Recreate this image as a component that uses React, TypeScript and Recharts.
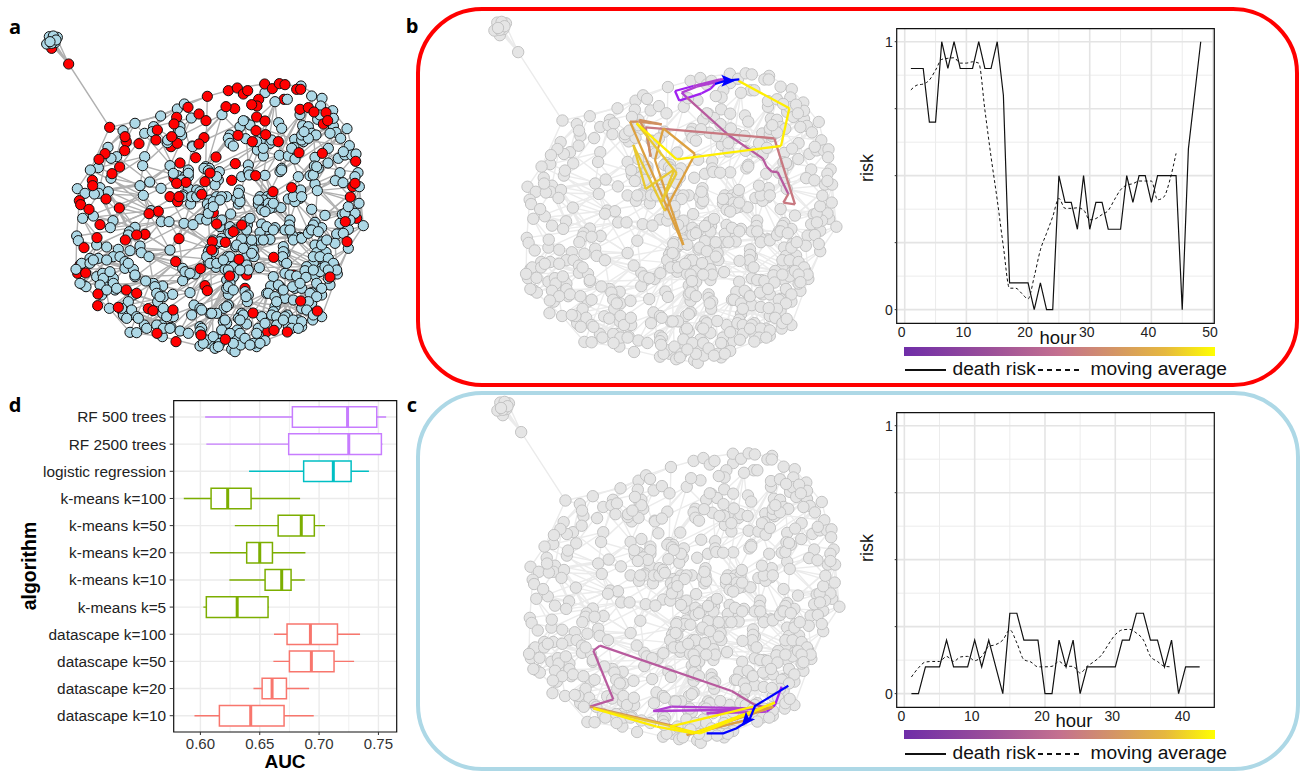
import React from "react";
import { ComposedChart, Scatter, Line, XAxis, YAxis, CartesianGrid, ReferenceArea } from "recharts";

const FONT = "'Liberation Sans', Arial, sans-serif";

// ---------- network layout (3x pixel grid) ----------
const blueNodes: number[][] = [
[148,110],[172,112],[160,108],[140,132],[165,128],[155,130],[168,120],[150,125],
[903,258],[795,278],[825,305],[862,298],[935,288],[966,295],[962,318],[532,327],[553,312],[482,348],[574,354],[666,344],[900,344],[998,332],[953,358],[1000,378],[836,368],[735,364],[750,375],
[405,370],[369,392],[461,380],[434,400],[457,395],[535,388],[545,405],[908,377],[925,380],[845,385],[1041,386],[1008,397],[935,400],[948,405],
[690,405],[685,415],[737,416],[785,428],[810,430],[884,418],[910,425],[882,442],[905,420],[1022,415],[1048,437],[985,445],[502,428],[577,438],[690,430],[700,438],[772,450],[790,468],[838,466],[865,468],[885,477],[1015,475],[1035,465],[1055,465],[1068,462],[945,472],[984,489],[943,498],[955,505],
[324,442],[350,470],[333,475],[295,503],[271,510],[434,470],[428,497],[510,497],[617,500],[628,505],[745,495],[845,505],[840,515],[658,515],[565,510],[533,527],[555,530],[565,530],[655,540],[725,530],[750,522],[795,526],[895,530],[930,527],[1020,518],[1074,518],[1065,530],
[333,535],[300,563],[296,580],[325,575],[232,566],[255,580],[283,582],[449,546],[420,557],[483,565],[430,586],[645,555],[565,565],[590,570],[550,585],[718,570],[945,552],[1006,542],[1029,548],[1078,560],[952,572],[902,570],[1077,610],
[780,590],[802,590],[815,590],[865,597],[900,595],[885,605],[630,600],[650,590],[680,590],[718,590],[572,612],[622,612],[628,625],[715,612],[775,612],[800,628],[820,622],[843,623],[785,630],[935,628],[1045,640],[975,646],[1027,643],[1065,640],
[453,632],[484,665],[507,665],[692,642],[248,655],[280,648],[339,662],[331,683],[600,657],[552,670],[579,674],[620,660],[745,660],[742,675],[785,672],[870,660],[868,675],[945,667],[1045,688],[1090,677],[965,683],[940,675],[930,690],[825,683],[805,690],[780,697],[405,682],[388,695],[385,705],[660,680],[685,698],[665,715],[1010,702],
[230,708],[235,722],[290,735],[320,741],[355,748],[390,752],[420,738],[424,758],[447,770],[510,750],[645,735],[630,745],[740,715],[725,717],[775,720],[810,718],[900,712],[878,708],[945,735],[968,725],[1005,730],[1045,745],[755,735],[760,750],[707,740],[850,740],[978,757],[950,758],[855,760],[340,770],[360,770],
[270,775],[295,775],[320,780],[375,785],[245,790],[270,790],[632,778],[682,770],[680,790],[648,802],[625,785],[740,770],[762,770],[852,785],[940,790],[975,785],[965,805],[995,800],[920,800],[405,830],[375,805],[400,808],[548,805],[560,825],[585,822],[548,842],[700,800],[740,800],[778,803],[228,808],[290,830],[308,820],[332,825],[340,835],[675,808],[855,820],[870,825],[820,830],[890,828],[915,812],[1012,822],[945,825],[960,815],[918,832],[950,850],[990,855],
[248,853],[258,860],[315,850],[335,860],[345,870],[310,855],[460,850],[437,843],[488,858],[680,840],[700,830],[812,858],[840,860],[885,865],[905,865],[570,878],[474,880],[490,890],[518,883],[685,883],[680,865],[735,875],[745,885],[800,880],[855,895],[880,900],[935,878],[965,885],[305,885],[400,885],[385,905],[742,905],
[328,925],[368,935],[375,950],[370,945],[395,930],[410,950],[473,905],[582,915],[600,925],[685,915],[672,925],[825,920],[820,935],[905,925],[935,910],[965,950],[938,960],[488,940],[510,940],[575,945],[630,940],[650,940],[725,940],[715,955],[785,950],[825,950],[862,945],[895,960],[890,975],[870,965],
[433,975],[485,975],[513,982],[600,980],[670,965],[680,970],[740,972],[712,990],[775,985],[865,980],[905,980],[390,997],[410,998],[540,993],[565,1000],[605,985],[715,1005],[775,1005],[487,1010],[627,1030],[655,1018],[710,1020],[795,1022],[600,1038],[645,1045],[695,1048],[705,1055],[722,1035],[770,1040],[760,1030],
[720,380],[770,425],[790,445],[815,420],[875,445],[905,405],[925,415],[912,395],[1030,455],[990,400],[975,345],[1000,355],[960,345],[730,362],
[540,380],[540,395],[503,420],[578,440],[612,505],[625,512],[650,530],[745,515],[748,525],[845,510],[940,525],[950,500],
[520,520],[565,520],[545,540],[548,590],[575,590],[590,590],[600,575],[640,605],[665,590],[660,600],[710,595],[720,605],[715,580],[790,600],[775,600],[805,610],[810,625],[795,635],[820,610],[880,590],[905,590],
[625,640],[640,620],[665,660],[690,680],[690,700],[705,690],[740,690],[735,665],[750,655],[800,680],[820,690],[790,720],[855,690],[870,690],[880,720],[905,715],[925,700],[935,690],[955,695],[965,735],[980,720],[1030,700],[1020,670],[1050,660],[1035,640],[1045,620],
[640,720],[650,730],[625,755],[640,755],[660,725],[710,735],[730,745],[755,760],[755,720],[850,755],[848,770],[860,790],[940,770],[960,770],[985,775],[1000,790],[1010,810],[940,810],[975,800],[985,810],[985,835],
[620,770],[630,790],[650,790],[690,770],[670,780],[740,795],[745,810],[720,810],[685,810],[690,850],[685,860],[700,870],[738,890],[805,880],[835,855],[850,870],[878,860],[900,850],[930,880],[965,865],[950,890],[925,905],[825,890],[830,905],
[310,835],[330,815],[300,855],[340,850],[320,870],[350,865],[240,850],[280,780],[385,790],[405,825],
[555,815],[570,820],[465,860],[470,880],[480,890],
[365,925],[380,955],[415,955],[490,925],[520,950],[500,950],[605,930],[635,940],[680,920],[675,960],[730,945],[720,960],[815,945],[830,950],[855,950],[880,960],[905,965],[920,930],[940,945],
[440,985],[470,975],[490,985],[510,985],[600,995],[665,990],[690,1000],[720,1000],[770,1000],[795,970],[830,975],[850,960],[875,985],[895,985],
[620,1020],[640,1010],[660,1030],[700,1030],[735,1015],[750,1035],[780,1030],[655,1040],[610,1030],
];
const redBehind: number[][] = [
[155,145],[852,298],[1058,560],[1070,655],[240,795],[233,820],[522,533],[513,440],[880,825],[740,825],[1003,797],[798,997],[735,865],[640,638],
];
const redFront: number[][] = [
[206,192],[329,382],[622,289],[685,272],[712,264],[730,282],[743,272],[794,252],[817,266],[838,251],[855,254],[890,268],[902,268],[776,298],[771,318],[755,314],[704,326],[678,320],[564,322],[530,352],[597,342],[618,362],[522,372],[770,351],[795,363],[768,392],[797,404],[835,425],[757,425],[714,406],[900,328],[925,323],[942,336],[978,338],[970,372],[983,362],[472,390],[468,420],[417,431],[379,425],[375,410],[374,452],[315,461],[297,478],[359,501],[612,413],[597,432],[532,430],[515,410],[648,471],[587,473],[540,489],[706,491],[630,519],[615,545],[695,541],[767,527],[897,458],[967,460],[1067,484],[1065,550],[1051,591],[875,563],[819,575],[558,547],[530,550],[510,590],[533,605],[537,590],[605,583],[336,521],[277,541],[278,557],[318,597],[358,624],[238,602],[242,614],[267,628],[300,674],[291,713],[252,743],[475,634],[447,641],[650,672],[725,675],[435,703],[410,705],[376,720],[537,716],[700,695],[676,727],[637,725],[635,750],[717,778],[821,772],[1036,665],[1041,725],[527,785],[601,806],[257,819],[379,870],[294,882],[410,880],[293,917],[355,922],[445,926],[459,932],[519,930],[615,857],[622,872],[689,828],[990,831],[902,903],[952,933],[759,939],[471,1000],[528,1025],[603,1005],[676,1018],[822,991],[862,996],
];
const edgeTrails: number[][][] = [
[[160,125],[206,192],[150,120],[206,192],[172,118],[206,192],[165,130],[206,192],[155,135],[206,192],[329,382]],
[[329,382],[482,348],[622,289],[712,264],[794,252],[903,258],[966,295],[1041,386],[1074,518],[1090,677],[1045,745],[1012,822],[965,950],[862,996],[795,1022],[705,1055],[600,1038],[487,1010],[390,997],[328,925],[248,853],[228,808],[230,708],[238,602],[232,566],[271,510],[329,382]],
[[405,370],[532,327],[574,450],[666,344],[620,500],[735,364],[690,430],[825,305],[845,505],[903,400],[935,288],[945,472],[1041,386],[1015,475],[1068,462],[1020,518],[1006,542],[1051,591],[952,572],[1077,610],[975,646],[1040,590]],
[[271,510],[430,586],[300,563],[453,632],[333,535],[483,565],[358,624],[552,670],[510,590],[600,657],[645,555],[692,642],[718,570],[785,672],[819,575],[870,660],[900,570],[945,667],[952,572],[1027,643],[1078,560],[1045,688],[965,683]],
[[230,708],[405,682],[290,735],[510,750],[390,752],[527,785],[447,770],[645,735],[560,825],[707,740],[648,802],[778,803],[760,750],[900,712],[820,830],[945,735],[915,812],[1045,745],[990,855],[920,800]],
[[248,853],[460,850],[328,925],[570,878],[433,975],[685,883],[540,993],[800,880],[715,1005],[880,900],[775,1005],[965,885],[865,980],[990,831]],
[[482,348],[434,470],[420,557],[453,632],[435,703],[510,750],[405,830],[474,880],[433,975]],
[[574,354],[510,497],[572,612],[537,716],[548,805],[570,878],[582,915],[600,1038]],
[[735,364],[745,495],[718,590],[745,660],[707,740],[740,800],[680,883],[725,940],[705,1055]],
[[845,385],[895,530],[865,597],[868,675],[850,740],[855,820],[855,895],[825,950],[795,1022]],
[[1000,378],[985,489],[945,552],[1027,643],[1005,730],[1012,822],[965,885]],
[[324,442],[296,580],[248,655],[290,735],[245,790],[315,850],[328,925]],
[[405,370],[558,547],[700,695],[852,785],[965,950]],
[[1041,386],[880,560],[660,680],[450,850],[390,997]],
[[232,566],[450,640],[650,740],[900,860],[1045,745]],
[[622,289],[617,500],[630,745],[640,1030]],
[[825,305],[780,590],[725,717],[680,840],[610,1020]],
[[900,344],[1020,518],[1077,610],[1090,677],[1010,702]],
[[369,392],[350,470],[449,546],[339,662],[405,682],[484,665],[420,738],[552,670],[510,750],[447,640],[430,586],[507,665],[537,716],[579,674],[510,750],[405,682],[375,805],[270,775],[320,741],[248,655],[339,662],[280,648]],
[[461,380],[428,497],[533,527],[461,380],[574,450],[550,585],[628,505],[572,612],[680,590],[620,660],[745,660],[660,680],[780,697],[685,698],[810,718],[725,717],[900,712],[775,720],[878,708],[805,690],[930,690],[825,683],[945,735]],
[[666,344],[790,468],[772,450],[838,466],[900,344],[885,477],[750,375],[884,418],[1000,378],[905,420],[1048,437],[943,498],[1074,518],[1029,548],[985,445],[895,530],[945,472],[930,527],[865,468],[802,590],[895,530],[900,595],[975,646]],
[[248,853],[375,805],[228,808],[340,835],[270,775],[400,808],[320,780],[460,850],[375,785],[437,843],[335,860],[473,905],[345,870],[488,940],[368,935],[513,982],[395,930],[485,975],[410,998],[540,993]],
[[680,970],[600,925],[740,972],[630,940],[785,950],[685,915],[862,945],[742,905],[905,925],[800,880],[938,960],[855,895],[890,975],[812,858],[935,910],[885,865],[945,825],[855,760],[965,805],[852,785],[1012,822],[940,790]],
[[548,842],[675,808],[570,878],[700,830],[600,980],[680,865],[605,985],[735,875],[655,1018],[745,885],[770,1040],[825,920],[795,1022],[820,935],[722,1035],[785,950]],
[[632,778],[740,770],[625,785],[778,803],[682,770],[852,785],[762,770],[870,825],[740,715],[820,830],[700,800],[855,820],[560,825],[680,790],[548,805],[632,778],[424,758],[560,825],[405,830]],
[[329,382],[369,392],[324,442],[405,370],[350,470],[434,400],[333,535],[434,470],[295,503],[420,557],[255,580],[449,546],[283,582],[430,586],[248,655],[453,632],[331,683],[484,665],[385,705]],
[[235,722],[355,748],[245,790],[424,758],[228,808],[290,735],[248,853],[320,780],[258,860],[375,805],[305,885],[437,843],[328,925],[400,885],[395,930],[518,883],[410,998],[488,940],[513,982],[582,915],[540,993],[650,940],[600,1038]],
[[532,327],[461,380],[574,354],[502,428],[666,344],[577,438],[735,364],[617,500],[690,405],[628,505],[785,428],[658,515],[838,466],[725,530],[825,305],[750,522],[900,344],[795,526],[1000,378],[840,515],[1041,386],[895,530]],
[[622,289],[553,312],[482,348],[461,380],[502,428],[428,497],[483,565],[420,557],[510,497],[449,546],[565,510],[483,565],[565,565],[453,632],[572,612],[484,665],[600,657],[507,665],[645,735],[552,670],[630,745],[537,716]],
[[1074,518],[1078,560],[1077,610],[1045,640],[1090,677],[1005,730],[1045,688],[968,725],[1010,702],[945,667],[1027,643],[935,628],[1065,640],[975,646],[1078,560],[952,572],[1020,518],[902,570],[1006,542],[900,595],[945,552],[843,623]],
[[300,563],[339,662],[296,580],[405,682],[325,575],[388,695],[358,624],[331,683],[453,632],[385,705],[420,738],[447,770],[510,750],[548,805],[447,770],[460,850],[527,785],[437,843],[548,842],[488,858],[570,878]],
[[715,612],[800,628],[692,642],[785,672],[718,570],[843,623],[745,495],[815,590],[795,526],[870,660],[750,522],[900,712],[780,590],[945,735],[885,605],[1005,730],[935,628],[975,785],[868,675],[995,800],[850,740],[965,805],[878,708],[1012,822]],
[[645,555],[572,612],[630,600],[552,670],[622,612],[579,674],[628,625],[600,657],[692,642],[620,660],[660,680],[645,735],[685,698],[632,778],[740,715],[682,770],[775,720],[700,800],[810,718],[740,800],[855,760],[778,803],[920,800],[855,820],[945,825],[890,828],[950,850],[885,865],[990,855],[935,878]],
[[548,805],[488,858],[585,822],[518,883],[648,802],[570,878],[625,785],[582,915],[700,830],[600,925],[680,840],[630,940],[685,883],[650,940],[742,905],[725,940],[800,880],[785,950],[812,858],[825,920],[840,860],[862,945],[880,900],[895,960],[905,865],[938,960]],
];

// ---------- journeys on the network; each leg's time step is an index on the colour scale ----------
const pathBBlue: number[][] = [[778,208],[738,212],[705,222]];
const pathBMain: number[][] = [[705,222],[692,236],[665,250],[598,272],[585,243],[640,228],[720,208],[745,208],[650,230],[605,248],[620,262],[745,375],[848,445],[860,470],[875,485],[893,486],[925,552],[910,578],[945,583],[883,385],[497,352],[512,440],[500,370],[478,330],[545,343],[475,335],[450,335],[610,705],[525,450],[550,355],[645,432],[555,603],[460,405],[497,537],[583,478],[545,575],[590,490],[470,340],[590,448],[903,408],[928,295],[775,212]];
const pathBLegs = [0,0,0,0,0,1,1,1,1,1,2,2,2,2,2,2,3,3,3,3,3,4,4,4,4,4,5,5,5,5,5,6,6,6,6,6,6,7,7,7,7];
const arrowB: number[][] = [[742,212]];
const pathCBlue: number[][] = [[925,887],[825,948],[808,990],[770,1015],[730,1030],[680,1030]];
const pathCMain: number[][] = [[905,890],[885,945],[860,965],[680,970],[820,955],[575,950],[520,963],[720,960],[875,955],[825,945],[755,903],[360,767],[340,782],[400,928],[330,950],[570,1005],[640,1030],[800,990],[620,1035],[880,950],[640,1030],[570,1008],[340,955],[530,1010],[640,1030],[885,938],[660,1030],[570,1010],[820,950]];
const pathCLegs = [0,0,1,1,1,1,1,1,2,2,2,2,2,2,4,4,4,5,5,5,6,6,7,7,7,7,7,7];
const arrowC: number[][] = [[800,990]];
const legPalette = ["#a020f0","#b040d0","#b85a9e","#c87880","#d09060","#dca040","#e8c830","#ffee00"];

// ---------- risk series ----------
const riskB = [0.9,0.9,0.9,0.7,0.7,1,0.9,1,0.9,0.9,0.9,1,0.9,0.9,1,0.8,0.1,0.1,0.1,0.1,0,0.1,0,0,0.5,0.4,0.4,0.3,0.5,0.3,0.4,0.4,0.3,0.3,0.3,0.5,0.4,0.5,0.5,0.4,0.5,0.5,0.5,0.5,0,0.6,0.8,1];
const avgB = [0.82,0.838,0.842,0.857,0.894,0.934,0.938,0.94,0.92,0.92,0.925,0.92,0.745,0.57,0.41,0.235,0.08,0.08,0.06,0.04,0.123,0.223,0.285,0.347,0.415,0.378,0.378,0.38,0.372,0.335,0.34,0.355,0.37,0.41,0.447,0.465,0.47,0.48,0.48,0.48,0.41,0.42,0.484,0.583];
const riskC = [0,0,0.1,0.1,0.1,0.2,0.1,0.1,0.1,0.2,0.1,0.2,0.1,0,0.3,0.3,0.2,0.2,0.2,0,0,0.2,0.1,0.2,0,0.1,0.1,0.1,0.1,0.1,0.2,0.2,0.3,0.3,0.2,0.2,0.1,0.2,0,0.1,0.1,0.1];
const avgC = [0.062,0.096,0.118,0.12,0.12,0.139,0.12,0.137,0.139,0.123,0.139,0.176,0.183,0.2,0.238,0.189,0.127,0.118,0.1,0.1,0.102,0.12,0.102,0.102,0.077,0.102,0.12,0.143,0.183,0.22,0.238,0.24,0.226,0.2,0.139,0.12,0.102,0.1];
const xTicksB = [0,10,20,30,40,50];
const xTicksC = [0,10,20,30,40];
const yTicks = [0,0.25,0.5,0.75,1];
const yMinor = [0.125,0.375,0.625,0.875];

// ---------- AUC box plots, listed top to bottom ----------
const algorithms = ["RF 500 trees","RF 2500 trees","logistic regression","k-means k=100","k-means k=50","k-means k=20","k-means k=10","k-means k=5","datascape k=100","datascape k=50","datascape k=20","datascape k=10"];
const whiskerLow = [0.604,0.605,0.641,0.586,0.629,0.608,0.6244,0.6025,0.662,0.6615,0.6447,0.595];
const q1 = [0.6775,0.6744,0.687,0.609,0.6655,0.639,0.6545,0.605,0.673,0.675,0.652,0.616];
const median = [0.724,0.725,0.712,0.623,0.685,0.65,0.6685,0.631,0.6927,0.6935,0.6604,0.6424];
const q3 = [0.7486,0.7525,0.727,0.6427,0.696,0.6607,0.6764,0.657,0.7155,0.7126,0.6725,0.6705];
const whiskerHigh = [0.7565,0.7534,0.742,0.684,0.705,0.6885,0.688,0.6576,0.7345,0.7295,0.6916,0.6955];
const boxColors = ["#C77CFF","#C77CFF","#00BFC4","#7CAE00","#7CAE00","#7CAE00","#7CAE00","#7CAE00","#F8766D","#F8766D","#F8766D","#F8766D"];
const aucTicks = [0.6,0.65,0.7,0.75];
const aucMinor = [0.625,0.675,0.725];

const toPts = (a: number[][]) => a.map(([x, y]) => ({ x, y }));
const noMark = () => <g />;

function Txt({ x, y, size = 18, bold = false, rotate = 0, color = "#111", family = FONT, anchor = "center", children }: any) {
  const tx = anchor === "left" ? "0" : anchor === "right" ? "-100%" : "-50%";
  return (
    <div style={{ position: "absolute", left: x, top: y, fontFamily: family, fontSize: size, fontWeight: bold ? 700 : 400, color, whiteSpace: "nowrap", lineHeight: 1, transform: `translate(${tx},-50%) rotate(${rotate}deg)` }}>
      {children}
    </div>
  );
}

function Network({ left, top, scale, blue, red, edge, nodeStroke, r, ew }: any) {
  const circle = (fill: string) => (p: any) => <circle cx={p.cx} cy={p.cy} r={r} fill={fill} stroke={nodeStroke} strokeWidth={1} />;
  return (
    <div style={{ position: "absolute", left, top }}>
      <ComposedChart width={400 * scale} height={380 * scale} margin={{ top: 0, right: 0, bottom: 0, left: 0 }}>
        <XAxis hide type="number" dataKey="x" domain={[0, 1200]} allowDataOverflow />
        <YAxis hide type="number" dataKey="y" domain={[0, 1140]} reversed allowDataOverflow />
        {edgeTrails.map((t, i) => (
          <Scatter key={i} data={toPts(t)} isAnimationActive={false} shape={noMark} line={{ stroke: edge, strokeWidth: ew }} />
        ))}
        <Scatter data={toPts(redBehind)} isAnimationActive={false} shape={circle(red)} />
        <Scatter data={toPts(blueNodes)} isAnimationActive={false} shape={circle(blue)} />
        <Scatter data={toPts(redFront)} isAnimationActive={false} shape={circle(red)} />
      </ComposedChart>
    </div>
  );
}

function Journey({ left, top, h, blue, main, legs, arrow, angle }: any) {
  const arrowShape = (p: any) => (
    <polygon points="8,0 -6,-6 -3,0 -6,6" fill="#0000ff" transform={`translate(${p.cx},${p.cy}) rotate(${angle})`} />
  );
  const segs = main.slice(1).map((pt: number[], i: number) => ({ pts: [main[i], pt], color: legPalette[legs[i]] }));
  return (
    <div style={{ position: "absolute", left, top }}>
      <ComposedChart width={380} height={h} margin={{ top: 0, right: 0, bottom: 0, left: 0 }}>
        <XAxis hide type="number" dataKey="x" domain={[0, 1140]} allowDataOverflow />
        <YAxis hide type="number" dataKey="y" domain={[0, h * 3]} reversed allowDataOverflow />
        {segs.map((s: any, i: number) => (
          <Scatter key={i} data={toPts(s.pts)} isAnimationActive={false} shape={noMark} line={{ stroke: s.color, strokeWidth: 2.3 }} />
        ))}
        <Scatter data={toPts(blue)} isAnimationActive={false} shape={noMark} line={{ stroke: "#0000ff", strokeWidth: 2.3 }} />
        <Scatter data={toPts(arrow)} isAnimationActive={false} shape={arrowShape} />
      </ComposedChart>
    </div>
  );
}

function RiskChart({ top, risk, avg, xTicks, xDomain, xMinor }: any) {
  const riskData = risk.map((v: number, i: number) => ({ h: i + 1, v }));
  const avgData = avg.map((v: number, i: number) => ({ h: i + 1, v }));
  return (
    <div style={{ position: "absolute", left: 860, top }}>
      <ComposedChart width={370} height={340} margin={{ top: 8.7, right: 15.7, bottom: 16.7, left: 0 }}>
        <CartesianGrid stroke="#ececec" strokeWidth={1} horizontalValues={yMinor} verticalValues={xMinor} />
        <CartesianGrid stroke="#e4e4e4" strokeWidth={1.6} horizontalValues={yTicks} verticalValues={xTicks} />
        <XAxis type="number" dataKey="h" domain={xDomain} ticks={xTicks} allowDataOverflow height={20} interval={0}
          tick={{ fontSize: 14, fill: "#222", dx: -3, fontFamily: FONT }} tickSize={2} tickMargin={2} axisLine={false} tickLine={false} />
        <YAxis type="number" dataKey="v" domain={[-0.051, 1.0485]} ticks={yTicks} allowDataOverflow width={36.7} interval={0}
          tick={{ fontSize: 14, fill: "#222", fontFamily: FONT }} tickFormatter={(v: number) => (v === 0 || v === 1 ? String(v) : "")} tickSize={2} axisLine={false} stroke="#333" />
        <ReferenceArea x1={xDomain[0]} x2={xDomain[1]} y1={-0.051} y2={1.0485} fill="none" fillOpacity={0} stroke="#111" strokeWidth={1.2} />
        <Line data={riskData} dataKey="v" type="linear" stroke="#111" strokeWidth={1.2} dot={false} isAnimationActive={false} />
        <Line data={avgData} dataKey="v" type="monotone" stroke="#111" strokeWidth={1} strokeDasharray="3 2.5" dot={false} isAnimationActive={false} />
      </ComposedChart>
    </div>
  );
}

function ColorLegend({ barTop, legendY }: any) {
  return (
    <>
      <div style={{ position: "absolute", left: 904, top: barTop, width: 311, height: 9, background: "linear-gradient(90deg,#6f2da8 0%,#9c5099 28%,#c4708f 50%,#d69a60 70%,#e6b83e 84%,#ffff00 100%)" }} />
      <div style={{ position: "absolute", left: 905, top: legendY, width: 41, height: 1.5, background: "#111" }} />
      <Txt x={952.5} y={legendY} size={19.2} anchor="left">death risk</Txt>
      <div style={{ position: "absolute", left: 1038, top: legendY, width: 42, height: 1.5, background: "repeating-linear-gradient(90deg,#111 0 5px,transparent 5px 9px)" }} />
      <Txt x={1090.5} y={legendY} size={19.2} anchor="left">moving average</Txt>
    </>
  );
}

function AucChart() {
  const yOf = (i: number) => algorithms.length - i;
  const boxHalf = 0.38;
  return (
    <div style={{ position: "absolute", left: 0, top: 390 }}>
      <ComposedChart width={400} height={381} margin={{ top: 10.7, right: 3.3, bottom: 17, left: 0 }}>
        <CartesianGrid stroke="#f0f0f0" strokeWidth={1} horizontal={false} verticalValues={aucMinor} />
        <CartesianGrid stroke="#ebebeb" strokeWidth={1.4} horizontalValues={algorithms.map((_, i) => yOf(i))} verticalValues={aucTicks} />
        <XAxis type="number" dataKey="x" domain={[0.5775, 0.7654]} ticks={aucTicks} allowDataOverflow height={22} interval={0}
          tickFormatter={(v: number) => v.toFixed(2)} tick={{ fontSize: 15, fill: "#333", fontFamily: FONT }} tickSize={3} tickMargin={3} axisLine={false} stroke="#333" />
        <YAxis type="number" dataKey="y" domain={[0.4, 12.6]} ticks={algorithms.map((_, i) => yOf(i))} allowDataOverflow width={173.7} interval={0}
          tickFormatter={(v: number) => algorithms[algorithms.length - v]} tick={{ fontSize: 15.4, fill: "#222", fontFamily: FONT }} tickSize={4} tickMargin={3.5} axisLine={false} stroke="#333" />
        <ReferenceArea x1={0.5775} x2={0.7654} y1={0.4} y2={12.6} fill="none" fillOpacity={0} stroke="#111" strokeWidth={1.2} />
        {algorithms.map((_, i) => (
          <ReferenceArea key={"b" + i} x1={q1[i]} x2={q3[i]} y1={yOf(i) - boxHalf} y2={yOf(i) + boxHalf} fill="#fff" fillOpacity={1} stroke={boxColors[i]} strokeWidth={1.5} />
        ))}
        {algorithms.map((_, i) => (
          <Scatter key={"l" + i} data={[{ x: whiskerLow[i], y: yOf(i) }, { x: q1[i], y: yOf(i) }]} isAnimationActive={false} shape={noMark} line={{ stroke: boxColors[i], strokeWidth: 1.4 }} />
        ))}
        {algorithms.map((_, i) => (
          <Scatter key={"h" + i} data={[{ x: q3[i], y: yOf(i) }, { x: whiskerHigh[i], y: yOf(i) }]} isAnimationActive={false} shape={noMark} line={{ stroke: boxColors[i], strokeWidth: 1.4 }} />
        ))}
        {algorithms.map((_, i) => (
          <Scatter key={"m" + i} data={[{ x: median[i], y: yOf(i) - boxHalf }, { x: median[i], y: yOf(i) + boxHalf }]} isAnimationActive={false} shape={noMark} line={{ stroke: boxColors[i], strokeWidth: 3 }} />
        ))}
      </ComposedChart>
    </div>
  );
}

export default function App() {
  return (
    <div style={{ position: "absolute", left: 0, top: 0, width: 1306, height: 771, overflow: "hidden", background: "#fff", fontFamily: FONT }}>
      <div style={{ position: "absolute", left: 415.5, top: 7, width: 883, height: 380, boxSizing: "border-box", border: "4.5px solid #ff0000", borderRadius: 66 }} />
      <div style={{ position: "absolute", left: 415.5, top: 390.5, width: 884, height: 380, boxSizing: "border-box", border: "4.5px solid #add8e6", borderRadius: 66 }} />

      <Network left={0} top={0} scale={1} blue="#add8e6" red="#ff0000" edge="#b0b0b0" nodeStroke="#111" r={5.1} ew={1.4} />
      <Network left={443.5} top={-16.8} scale={1.08} blue="#e5e5e5" red="#e5e5e5" edge="#ebebeb" nodeStroke="#c2c2c2" r={5.7} ew={1.4} />
      <Network left={446.5} top={363.2} scale={1.08} blue="#e5e5e5" red="#e5e5e5" edge="#ebebeb" nodeStroke="#c2c2c2" r={5.7} ew={1.4} />
      <Journey left={480} top={10} h={360} blue={pathBBlue} main={pathBMain} legs={pathBLegs} arrow={arrowB} angle={0} />
      <Journey left={480} top={390} h={370} blue={pathCBlue} main={pathCMain} legs={pathCLegs} arrow={arrowC} angle={130} />

      <RiskChart top={20} risk={riskB} avg={avgB} xTicks={xTicksB} xDomain={[-1.3, 50.2]} xMinor={[5,15,25,35,45]} />
      <RiskChart top={404} risk={riskC} avg={avgC} xTicks={xTicksC} xDomain={[-1.09, 44.08]} xMinor={[5,15,25,35]} />
      <AucChart />

      <Txt x={867} y={168} size={18} rotate={-90}>risk</Txt>
      <Txt x={867} y={548} size={18} rotate={-90}>risk</Txt>
      <Txt x={1058} y={338} size={18.5}>hour</Txt>
      <Txt x={1074} y={721} size={18.5}>hour</Txt>
      <ColorLegend barTop={347} legendY={369} />
      <ColorLegend barTop={730} legendY={753} />

      <Txt x={30} y={566} size={19.4} bold rotate={-90} color="#000">algorithm</Txt>
      <Txt x={285} y={761} size={19} bold color="#000">AUC</Txt>

      <Txt x={15} y={27} size={20} bold color="#000" family="'Open Sans', sans-serif">a</Txt>
      <Txt x={412} y={26} size={20} bold color="#000" family="'Open Sans', sans-serif">b</Txt>
      <Txt x={412} y={405} size={20} bold color="#000" family="'Open Sans', sans-serif">c</Txt>
      <Txt x={15} y={405} size={20} bold color="#000" family="'Open Sans', sans-serif">d</Txt>
    </div>
  );
}
